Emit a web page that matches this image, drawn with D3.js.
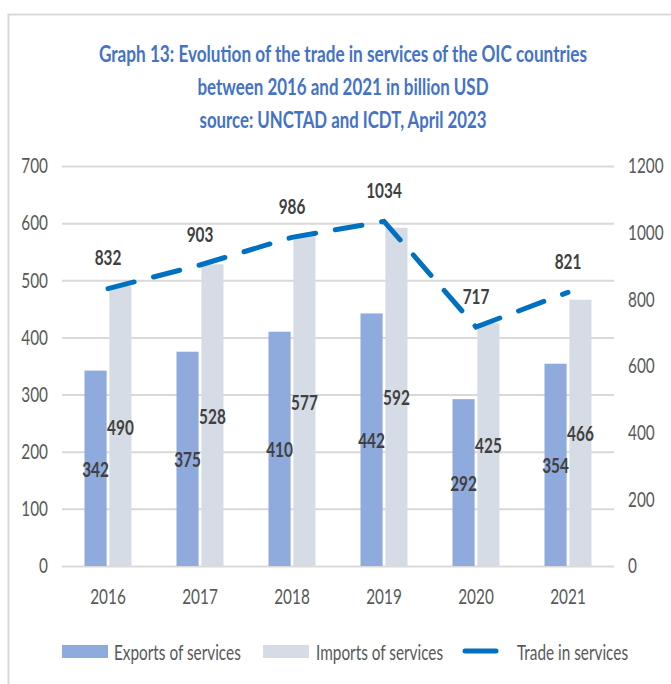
<!DOCTYPE html>
<html>
<head>
<meta charset="utf-8">
<script src="https://cdn.jsdelivr.net/npm/d3@7"></script>
<style>
  body { margin: 0; background: #fff; }
  svg text { font-family: Lato, "Open Sans", sans-serif; }
</style>
</head>
<body>
<svg id="chart"></svg>
<script>
// chart data
var years = ["2016", "2017", "2018", "2019", "2020", "2021"];
var exportsValues = [342, 375, 410, 442, 292, 354];
var importsValues = [490, 528, 577, 592, 425, 466];
var tradeValues = [832, 903, 986, 1034, 717, 821];
var leftTicks = [0, 100, 200, 300, 400, 500, 600, 700];
var rightTicks = [0, 200, 400, 600, 800, 1000, 1200];
var seriesNames = ["Exports of services", "Imports of services", "Trade in services"];
var titleLines = [
    "Graph 13: Evolution of the trade in services of the OIC countries",
    "between 2016 and 2021 in billion USD",
    "source: UNCTAD and ICDT, April 2023"
];

var width = 671, height = 684;
var margin = {left: 62, right: 57, top: 166, bottom: 118};
var plotW = width - margin.left - margin.right;
var plotH = height - margin.top - margin.bottom;

var colExports = "#8FAADC", colImports = "#D6DCE5", colLine = "#0070C0";
var axisColor = "#595959", labelColor = "#404040", gridColor = "#d9d9d9";
var fontSize = 21;
var squeezeFactor = 0.73;

// the reference font is narrow, so squeeze the glyphs horizontally
function squeeze(sel) {
    sel.each(function () {
        var len = this.getComputedTextLength();
        d3.select(this)
            .attr("textLength", len * squeezeFactor)
            .attr("lengthAdjust", "spacingAndGlyphs");
    });
}

var svg = d3.select("#chart")
    .attr("width", width)
    .attr("height", height);

// outer frame
svg.append("rect")
    .attr("x", 8.5).attr("y", 14.5)
    .attr("width", 700).attr("height", 700)
    .attr("fill", "#fff")
    .attr("stroke", gridColor)
    .attr("stroke-width", 2);

// title
svg.append("g").selectAll("text")
    .data(titleLines)
    .join("text")
    .attr("x", 343)
    .attr("y", (d, i) => 53 + i * 33)
    .attr("text-anchor", "middle")
    .attr("dominant-baseline", "central")
    .attr("fill", "#4472C4")
    .attr("font-weight", "bold")
    .attr("font-size", 22)
    .attr("textLength", (d, i) => [488, 291, 287][i])
    .attr("lengthAdjust", "spacingAndGlyphs")
    .text(d => d);

var g = svg.append("g")
    .attr("transform", "translate(" + margin.left + "," + margin.top + ")");

// scales
var x0 = d3.scaleBand().domain(years).range([0, plotW]);
var pairW = 47;
var x1 = d3.scaleBand().domain(["exports", "imports"]).range([0, pairW]).paddingInner(0.11);
var yLeft = d3.scaleLinear().domain([0, 700]).range([plotH, 0]);
var yRight = d3.scaleLinear().domain([0, 1200]).range([plotH, 0]);

// gridlines
g.append("g")
    .call(d3.axisLeft(yLeft).tickValues(leftTicks).tickSize(-plotW).tickFormat(""))
    .call(a => a.select(".domain").remove())
    .call(a => a.selectAll("line").attr("stroke", gridColor).attr("stroke-width", 2));

function styleAxis(a) {
    a.select(".domain").remove();
    a.selectAll("text")
        .attr("fill", axisColor)
        .attr("font-size", fontSize)
        .style("font-family", "Lato, 'Open Sans', sans-serif")
        .call(squeeze);
}

// left axis
g.append("g")
    .call(d3.axisLeft(yLeft).tickValues(leftTicks).tickSize(0).tickPadding(14))
    .call(styleAxis);

// right axis
g.append("g")
    .attr("transform", "translate(" + plotW + ",0)")
    .call(d3.axisRight(yRight).tickValues(rightTicks).tickFormat(d3.format("d")).tickSize(0).tickPadding(14))
    .call(styleAxis);

// x axis
g.append("g")
    .attr("transform", "translate(0," + plotH + ")")
    .call(d3.axisBottom(x0).tickSize(0).tickPadding(23))
    .call(styleAxis);

// bars
var rows = years.map((y, i) => ({year: y, exports: exportsValues[i], imports: importsValues[i]}));
var pairOffset = (x0.bandwidth() - pairW) / 2;

var groups = g.append("g").selectAll("g")
    .data(rows)
    .join("g")
    .attr("transform", d => "translate(" + (x0(d.year) + pairOffset) + ",0)");

var bars = groups.selectAll("g")
    .data(d => [{key: "exports", value: d.exports}, {key: "imports", value: d.imports}])
    .join("g");

bars.append("rect")
    .attr("x", d => x1(d.key))
    .attr("y", d => yLeft(d.value))
    .attr("width", x1.bandwidth())
    .attr("height", d => plotH - yLeft(d.value))
    .attr("fill", d => d.key === "exports" ? colExports : colImports);

bars.append("text")
    .attr("x", d => x1(d.key) + x1.bandwidth() / 2)
    .attr("y", d => (yLeft(d.value) + plotH) / 2)
    .attr("text-anchor", "middle")
    .attr("dominant-baseline", "central")
    .attr("fill", labelColor)
    .attr("font-weight", "bold")
    .attr("font-size", fontSize)
    .text(d => d.value)
    .call(squeeze);

// trade line
var line = d3.line()
    .x((d, i) => x0(years[i]) + x0.bandwidth() / 2)
    .y(d => yRight(d));

g.append("path")
    .datum(tradeValues)
    .attr("d", line)
    .attr("fill", "none")
    .attr("stroke", colLine)
    .attr("stroke-width", 5)
    .attr("stroke-linecap", "round")
    .attr("stroke-dasharray", "27,20");

g.append("g").selectAll("text")
    .data(tradeValues)
    .join("text")
    .attr("x", (d, i) => x0(years[i]) + x0.bandwidth() / 2)
    .attr("y", d => yRight(d) - 32)
    .attr("text-anchor", "middle")
    .attr("dominant-baseline", "central")
    .attr("fill", labelColor)
    .attr("font-weight", "bold")
    .attr("font-size", fontSize)
    .text(d => d)
    .call(squeeze);

// legend
var legendItems = [
    {name: seriesNames[0], type: "rect", color: colExports, x: 62, tx: 114},
    {name: seriesNames[1], type: "rect", color: colImports, x: 263, tx: 316},
    {name: seriesNames[2], type: "line", color: colLine, x: 463, tx: 517}
];
var legend = svg.append("g").attr("transform", "translate(0,651)");
legendItems.forEach(function (item) {
    if (item.type === "rect") {
        legend.append("rect")
            .attr("x", item.x).attr("y", -6)
            .attr("width", 46).attr("height", 13)
            .attr("fill", item.color);
    } else {
        legend.append("line")
            .attr("x1", item.x + 2).attr("x2", item.x + 33)
            .attr("y1", 0).attr("y2", 0)
            .attr("stroke", item.color)
            .attr("stroke-width", 5)
            .attr("stroke-linecap", "round");
    }
    legend.append("text")
        .attr("x", item.tx)
        .attr("y", 0)
        .attr("dominant-baseline", "central")
        .attr("fill", axisColor)
        .attr("font-size", fontSize)
        .text(item.name)
        .call(squeeze);
});
</script>
</body>
</html>
